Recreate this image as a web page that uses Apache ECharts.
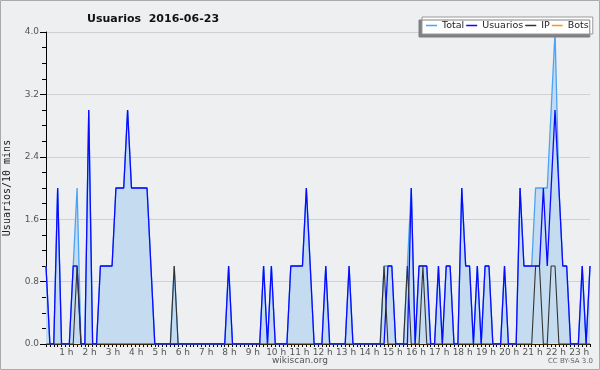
<!DOCTYPE html>
<html><head><meta charset="utf-8">
<script src="https://cdn.jsdelivr.net/npm/echarts@6/dist/echarts.min.js"></script>
<style>html,body{margin:0;padding:0;background:#eeeff1}#c{width:600px;height:370px}</style>
</head><body><div id="c"></div>
<script>
const hourLabels = ["1 h","2 h","3 h","4 h","5 h","6 h","7 h","8 h","9 h","10 h","11 h","12 h","13 h","14 h","15 h","16 h","17 h","18 h","19 h","20 h","21 h","22 h","23 h"];
const yTicks = [0, 0.8, 1.6, 2.4, 3.2, 4.0];
const total = [
1,0,0,2,0,0,0,1,2,0,
0,3,0,0,1,1,1,1,2,2,
2,3,2,2,2,2,2,1,0,0,
0,0,0,1,0,0,0,0,0,0,
0,0,0,0,0,0,0,1,0,0,
0,0,0,0,0,0,1,0,1,0,
0,0,0,1,1,1,1,2,1,0,
0,0,1,0,0,0,0,0,1,0,
0,0,0,0,0,0,0,1,1,1,
0,0,0,1,2,0,1,1,1,0,
0,1,0,1,1,0,0,2,1,1,
0,1,0,1,1,0,0,0,1,0,
0,0,2,1,1,1,2,2,2,2,
3,4,2,1,1,0,0,0,1,0,
1];
const usuarios = [
1,0,0,2,0,0,0,1,1,0,
0,3,0,0,1,1,1,1,2,2,
2,3,2,2,2,2,2,1,0,0,
0,0,0,0,0,0,0,0,0,0,
0,0,0,0,0,0,0,1,0,0,
0,0,0,0,0,0,1,0,1,0,
0,0,0,1,1,1,1,2,1,0,
0,0,1,0,0,0,0,0,1,0,
0,0,0,0,0,0,0,0,1,1,
0,0,0,0,2,0,1,1,1,0,
0,1,0,1,1,0,0,2,1,1,
0,1,0,1,1,0,0,0,1,0,
0,0,2,1,1,1,1,1,2,1,
2,3,2,1,1,0,0,0,1,0,
1];
const ip = [
0,0,0,0,0,0,0,0,1,0,
0,0,0,0,0,0,0,0,0,0,
0,0,0,0,0,0,0,0,0,0,
0,0,0,1,0,0,0,0,0,0,
0,0,0,0,0,0,0,0,0,0,
0,0,0,0,0,0,0,0,0,0,
0,0,0,0,0,0,0,0,0,0,
0,0,0,0,0,0,0,0,0,0,
0,0,0,0,0,0,0,1,0,0,
0,0,0,1,0,0,0,1,0,0,
0,0,0,0,0,0,0,0,0,0,
0,0,0,0,0,0,0,0,0,0,
0,0,0,0,0,0,1,1,0,0,
1,1,0,0,0,0,0,0,0,0,
0];
const bots = [
0,0,0,0,0,0,0,0,0,0,
0,0,0,0,0,0,0,0,0,0,
0,0,0,0,0,0,0,0,0,0,
0,0,0,0,0,0,0,0,0,0,
0,0,0,0,0,0,0,0,0,0,
0,0,0,0,0,0,0,0,0,0,
0,0,0,0,0,0,0,0,0,0,
0,0,0,0,0,0,0,0,0,0,
0,0,0,0,0,0,0,0,0,0,
0,0,0,0,0,0,0,0,0,0,
0,0,0,0,0,0,0,0,0,0,
0,0,0,0,0,0,0,0,0,0,
0,0,0,0,0,0,0,0,0,0,
0,0,0,0,0,0,0,0,0,0,
0];
const categories = total.map((v, i) => String(i));

const chart = echarts.init(document.getElementById('c'), null, {renderer: 'canvas'});
const font = 'DejaVu Sans';
chart.setOption({
  backgroundColor: '#eeeff1',
  animation: false,
  title: {
    text: 'Usuarios  2016-06-23', left: 82, top: 9,
    textStyle: {fontFamily: font, fontWeight: 'bold', fontSize: 11, color: '#111'}
  },
  legend: {
    left: 422, top: 17, orient: 'horizontal', icon: 'rect',
    backgroundColor: '#ffffff', borderColor: '#999', borderWidth: 1,
    shadowColor: '#808080', shadowOffsetX: -3, shadowOffsetY: 3, shadowBlur: 0,
    padding: [3.5, 4, 3.5, 4], itemGap: 2, itemWidth: 11, itemHeight: 1.5,
    textStyle: {fontFamily: font, fontSize: 9.5, color: '#222'},
    data: ['Total', 'Usuarios', 'IP', 'Bots']
  },
  grid: {left: 46, right: 10, top: 32, bottom: 26, containLabel: false, outerBoundsMode: 'none'},
  xAxis: {
    type: 'category', data: categories, boundaryGap: false,
    axisLine: {lineStyle: {color: '#000', width: 1}},
    axisTick: {interval: 0, length: 3, lineStyle: {color: '#000'}},
    axisLabel: {
      interval: (idx) => idx > 0 && idx % 6 === 0,
      formatter: (v, idx) => hourLabels[idx / 6 - 1] || '',
      fontFamily: font, fontSize: 9, color: '#555', margin: 4, padding: [0, 6, 0, 0]
    },
    splitLine: {show: false}
  },
  yAxis: {
    type: 'value', min: 0, max: 4, interval: 0.8,
    name: 'Usuarios/10 mins', nameLocation: 'middle', nameGap: 34, nameRotate: 90,
    nameTextStyle: {fontFamily: 'DejaVu Sans Mono', fontSize: 10, color: '#222'},
    axisLine: {show: true, lineStyle: {color: '#000', width: 1}},
    axisTick: {show: true, length: 6, lineStyle: {color: '#000'}},
    minorTick: {show: true, splitNumber: 4, length: 4, lineStyle: {color: '#000'}},
    axisLabel: {
      formatter: (v) => yTicks.includes(+v.toFixed(1)) ? v.toFixed(1) : '',
      fontFamily: font, fontSize: 9, color: '#555', margin: 7
    },
    splitLine: {show: true, lineStyle: {color: '#cfd0d2', width: 1}}
  },
  series: [
    {name: 'Bots', type: 'line', data: bots, symbol: 'none', z: 1,
     lineStyle: {color: '#ff9900', width: 1}, itemStyle: {color: '#ff9900'}},
    {name: 'Total', type: 'line', data: total, symbol: 'none', z: 2,
     lineStyle: {color: '#4aa3f5', width: 1.3}, itemStyle: {color: '#4aa3f5'},
     areaStyle: {color: '#c5dcf0', opacity: 1}},
    {name: 'Usuarios', type: 'line', data: usuarios, symbol: 'none', z: 3,
     lineStyle: {color: '#0a0aff', width: 1.3}, itemStyle: {color: '#0a0aff'}},
    {name: 'IP', type: 'line', data: ip, symbol: 'none', z: 4,
     lineStyle: {color: '#333333', width: 1.1}, itemStyle: {color: '#333333'}}
  ],
  graphic: [
    {type: 'rect', shape: {x: 0.5, y: 0.5, width: 599, height: 369}, style: {fill: 'none', stroke: '#aaaaaa', lineWidth: 1}, silent: true},
    {type: 'text', left: 'center', top: 356, style: {text: 'wikiscan.org', font: '9px "DejaVu Sans"', fill: '#555'}},
    {type: 'text', right: 7, top: 358, style: {text: 'CC BY-SA 3.0', font: '7px "DejaVu Sans"', fill: '#666'}}
  ]
});
</script></body></html>
